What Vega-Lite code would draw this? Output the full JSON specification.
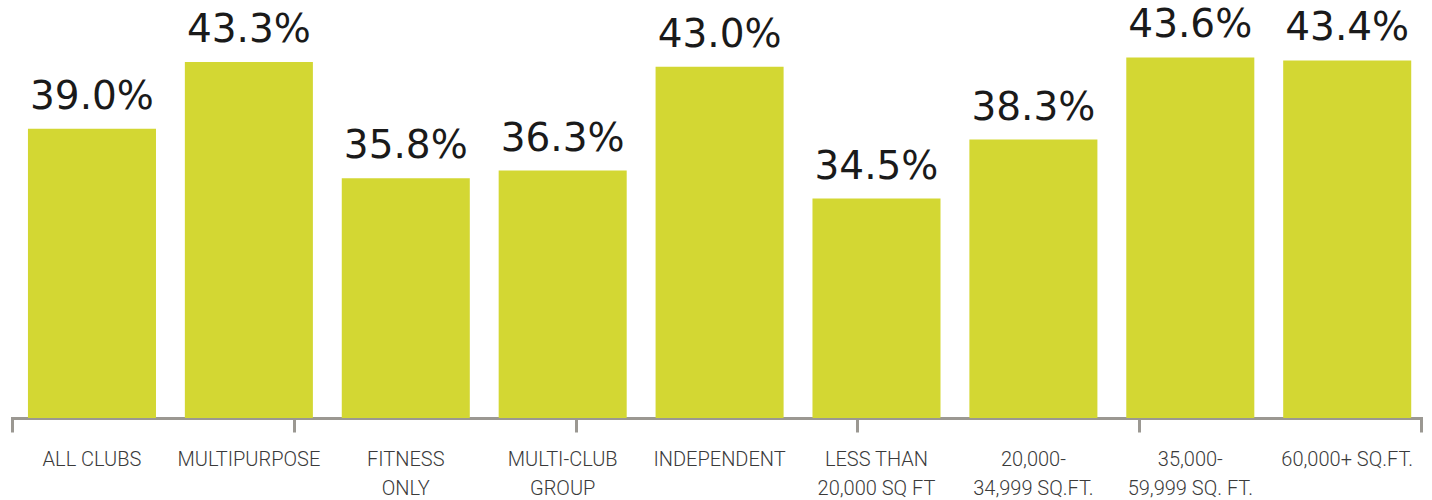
{
  "$schema": "https://vega.github.io/schema/vega-lite/v6.json",
  "width": 1409,
  "height": 418,
  "autosize": "none",
  "padding": {"left": 12, "top": 0, "right": 11, "bottom": 82},
  "background": "white",
  "config": {"view": {"stroke": null}},
  "data": {
    "values": [
      {"cat": "ALL CLUBS", "value": 0.390},
      {"cat": "MULTIPURPOSE", "value": 0.433},
      {"cat": "FITNESS|ONLY", "value": 0.358},
      {"cat": "MULTI-CLUB|GROUP", "value": 0.363},
      {"cat": "INDEPENDENT", "value": 0.430},
      {"cat": "LESS THAN|20,000 SQ FT", "value": 0.345},
      {"cat": "20,000-|34,999 SQ.FT.", "value": 0.383},
      {"cat": "35,000-|59,999 SQ. FT.", "value": 0.436},
      {"cat": "60,000+ SQ.FT.", "value": 0.434}
    ]
  },
  "layer": [
    {
      "data": {"values": [{"t": 0}, {"t": 5}]},
      "mark": {"type": "rule", "opacity": 0},
      "encoding": {
        "x": {
          "field": "t",
          "type": "quantitative",
          "scale": {"domain": [0, 5], "nice": false, "zero": false},
          "axis": {
            "orient": "bottom",
            "values": [0, 1, 2, 3, 4, 5],
            "labels": false,
            "title": null,
            "grid": false,
            "domainColor": "#9b9892",
            "domainWidth": 3,
            "domainCap": "square",
            "tickColor": "#9b9892",
            "tickWidth": 3,
            "tickSize": 14
          }
        }
      }
    },
    {
      "encoding": {
        "x": {
          "field": "cat",
          "type": "nominal",
          "sort": null,
          "scale": {"paddingInner": 0.184, "paddingOuter": 0.082, "align": 0.62},
          "axis": {
            "orient": "bottom",
            "title": null,
            "domain": false,
            "ticks": false,
            "labelAngle": 0,
            "labelFont": "Roboto",
            "labelFontWeight": 300,
            "labelFontSize": 20,
            "labelColor": "#3a3a3a",
            "labelLineHeight": 29,
            "labelBaseline": "top",
            "labelPadding": 31,
            "labelLimit": 0,
            "labelExpr": "split(datum.label, '|')"
          }
        },
        "y": {
          "field": "value",
          "type": "quantitative",
          "scale": {"domain": [0.2035, 0.473], "nice": false, "zero": false},
          "axis": null
        }
      },
      "layer": [
        {
          "mark": {"type": "bar", "color": "#d3d733"},
          "encoding": {"y2": {"datum": 0.2035}}
        },
        {
          "mark": {"type": "text", "font": "DejaVu Sans", "fontSize": 39, "color": "#1a1a1a", "baseline": "alphabetic", "dy": -20},
          "encoding": {"text": {"field": "value", "type": "quantitative", "format": ".1%"}}
        }
      ]
    }
  ],
  "resolve": {"scale": {"x": "independent"}, "axis": {"x": "independent"}}
}
